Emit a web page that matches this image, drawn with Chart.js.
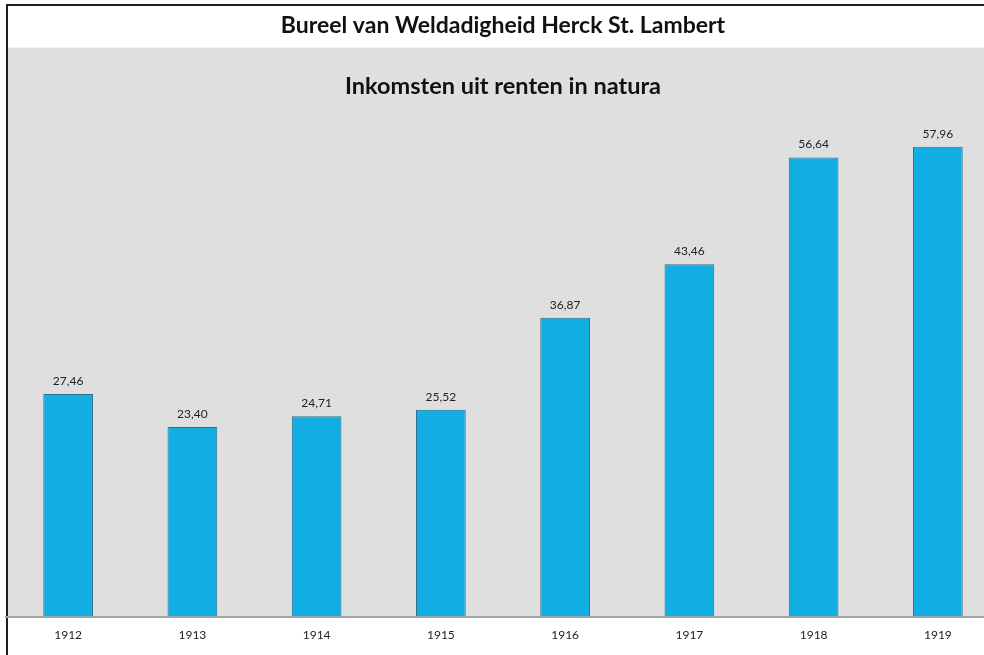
<!DOCTYPE html>
<html>
<head>
<meta charset="utf-8">
<script src="https://cdn.jsdelivr.net/npm/chart.js@4/dist/chart.umd.min.js"></script>
<style>
  html, body { margin: 0; padding: 0; background: #ffffff; overflow: hidden; }
  #wrap { position: relative; width: 1000px; height: 655px; }
</style>
</head>
<body>
<div id="wrap"><canvas id="c" width="1000" height="655"></canvas></div>
<script>
const years = ['1912', '1913', '1914', '1915', '1916', '1917', '1918', '1919'];
const incomeNatura = [27.46, 23.40, 24.71, 25.52, 36.87, 43.46, 56.64, 57.96];
const chartTitle = 'Bureel van Weldadigheid Herck St. Lambert';
const chartSubtitle = 'Inkomsten uit renten in natura';

const FONT = 'Lato, "Open Sans", sans-serif';

const framePlugin = {
  id: 'frame',
  beforeDraw(chart) {
    const ctx = chart.ctx;
    const a = chart.chartArea;
    const tb = chart.titleBlock;
    ctx.save();
    ctx.fillStyle = '#ffffff';
    ctx.fillRect(0, 0, chart.width, chart.height);
    const gTop = tb ? tb.bottom : 48;
    ctx.fillStyle = '#dfdfdf';
    ctx.fillRect(a.left, gTop, chart.width - a.left, a.bottom - gTop);
    ctx.strokeStyle = '#1e1e1e';
    ctx.lineWidth = 2;
    ctx.beginPath();
    ctx.moveTo(7, chart.height);
    ctx.lineTo(7, 5);
    ctx.lineTo(chart.width, 5);
    ctx.stroke();
    ctx.restore();
  }
};

const labelPlugin = {
  id: 'valueLabels',
  afterDatasetsDraw(chart) {
    const ctx = chart.ctx;
    const meta = chart.getDatasetMeta(0);
    ctx.save();
    ctx.fillStyle = '#222222';
    ctx.font = '12px ' + FONT;
    ctx.textAlign = 'center';
    ctx.textBaseline = 'bottom';
    meta.data.forEach((bar, i) => {
      const v = chart.data.datasets[0].data[i];
      ctx.fillText(v.toFixed(2).replace('.', ','), bar.x, bar.y - 7);
    });
    ctx.restore();
  }
};

new Chart(document.getElementById('c'), {
  type: 'bar',
  data: {
    labels: years,
    datasets: [{
      data: incomeNatura,
      backgroundColor: '#12ade3',
      borderColor: '#2d6f8f',
      borderWidth: 1,
      barPercentage: 0.8,
      categoryPercentage: 0.5
    }]
  },
  options: {
    responsive: false,
    animation: false,
    devicePixelRatio: 1,
    layout: { padding: { left: 6, right: 0, top: 0, bottom: 2 } },
    plugins: {
      legend: { display: false },
      tooltip: { enabled: false },
      title: {
        display: true,
        text: chartTitle,
        color: '#111111',
        font: { family: FONT, size: 23, weight: 'bold' },
        padding: { top: 12, bottom: 8 }
      },
      subtitle: {
        display: true,
        text: chartSubtitle,
        color: '#111111',
        font: { family: FONT, size: 23.5, weight: 'bold' },
        padding: { top: 25, bottom: 18 }
      }
    },
    scales: {
      x: {
        grid: { display: false, drawTicks: false },
        border: { display: true, color: '#a6a6a6', width: 2 },
        ticks: { color: '#222222', font: { family: FONT, size: 12 }, padding: 11 }
      },
      y: {
        display: false,
        min: 0,
        max: 61.4
      }
    }
  },
  plugins: [framePlugin, labelPlugin]
});
</script>
</body>
</html>
